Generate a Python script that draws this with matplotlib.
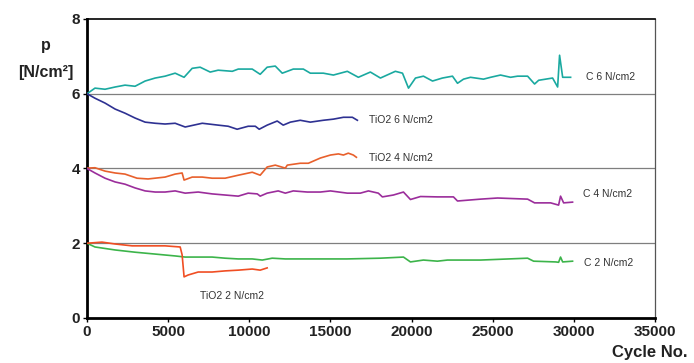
import matplotlib
matplotlib.use("Agg")
import matplotlib.pyplot as plt

# Friction pressure records over cycle count
c6_x = [0, 490, 1110, 1730, 2340, 2960, 3580, 4200, 4810, 5430, 5980, 6480, 6970, 7590, 8080, 8950, 9320,
        10180, 10670, 11100, 11600, 12030, 12220, 12710, 13330, 13760, 14560, 15180, 16040, 16720, 17460,
        18080, 19000, 19440, 19810, 20240, 20730, 21290, 21900, 22520, 22830, 23200, 23630, 24430, 24870,
        25480, 26100, 26530, 27150, 27580, 27830, 28690, 29000, 29120, 29310, 29800]
c6_y = [6.0, 6.15, 6.12, 6.18, 6.23, 6.2, 6.34, 6.42, 6.47, 6.55, 6.44, 6.68, 6.71, 6.58, 6.63, 6.6, 6.66,
        6.66, 6.52, 6.71, 6.74, 6.55, 6.58, 6.66, 6.66, 6.55, 6.55, 6.5, 6.6, 6.44, 6.58,
        6.42, 6.6, 6.55, 6.15, 6.42, 6.47, 6.34, 6.42, 6.47, 6.28, 6.39, 6.44, 6.39, 6.44,
        6.5, 6.44, 6.47, 6.47, 6.26, 6.36, 6.42, 6.18, 7.03, 6.44, 6.44]

tio6_x = [0, 490, 1110, 1730, 2340, 2960, 3580, 4200, 4810, 5430, 6050, 7100, 8080, 8700, 9250, 9930,
          10370, 10610, 11100, 11720, 12090, 12530, 13140, 13760, 14560, 15180, 15800, 16350, 16660]
tio6_y = [6.0, 5.88, 5.75, 5.59, 5.48, 5.35, 5.24, 5.21, 5.19, 5.21, 5.11, 5.21, 5.16, 5.13, 5.05, 5.13,
          5.13, 5.05, 5.16, 5.27, 5.16, 5.24, 5.29, 5.24, 5.29, 5.32, 5.37, 5.37, 5.29]

tio4_x = [0, 490, 1110, 1730, 2340, 3080, 3760, 4810, 5430, 5860, 5980, 6480, 7100, 7710, 8510, 9320,
          10180, 10670, 11100, 11600, 12220, 12340, 13140, 13640, 14380, 15000, 15490, 15800, 16100,
          16410, 16600]
tio4_y = [4.01, 4.02, 3.93, 3.88, 3.85, 3.74, 3.72, 3.77, 3.85, 3.88, 3.69, 3.77, 3.77, 3.74, 3.74, 3.82,
          3.90, 3.82, 4.04, 4.09, 4.01, 4.09, 4.14, 4.14, 4.28, 4.36, 4.39, 4.36, 4.41,
          4.36, 4.30]

c4_x = [0, 490, 1110, 1730, 2340, 2960, 3580, 4200, 4810, 5430, 6050, 6850, 7710, 8510, 9320, 9930,
        10490, 10670, 11100, 11780, 12220, 12710, 13570, 14380, 15000, 16040, 16840, 17340, 17950,
        18200, 18880, 19500, 19930, 20550, 21590, 22580, 22830, 24250, 25300, 27150, 27580, 28570,
        29060, 29180, 29370, 29920]
c4_y = [4.0, 3.88, 3.74, 3.64, 3.58, 3.48, 3.40, 3.37, 3.37, 3.40, 3.34, 3.37, 3.32, 3.29, 3.26, 3.34,
        3.32, 3.26, 3.34, 3.40, 3.34, 3.40, 3.37, 3.37, 3.40, 3.34, 3.34, 3.40, 3.34,
        3.24, 3.29, 3.37, 3.17, 3.25, 3.24, 3.24, 3.13, 3.18, 3.21, 3.18, 3.08, 3.08,
        3.02, 3.26, 3.08, 3.10]

c2_x = [0, 490, 1730, 2960, 4200, 5430, 6050, 6850, 7710, 8510, 9320, 10180, 10800, 11410, 12220,
        14000, 16000, 18080, 19500, 19930, 20730, 21590, 22210, 24250, 27150, 27520, 28880, 29060,
        29180, 29310, 29920]
c2_y = [2.0, 1.90, 1.82, 1.76, 1.71, 1.66, 1.63, 1.63, 1.63, 1.60, 1.58, 1.58, 1.55, 1.60, 1.58,
        1.58, 1.58, 1.60, 1.63, 1.50, 1.55, 1.52, 1.55, 1.55, 1.60, 1.52, 1.50, 1.49,
        1.63, 1.50, 1.52]

tio2_x = [0, 920, 1730, 2780, 4010, 4810, 5740, 5860, 5980, 6230, 6850, 7710, 8510, 9320, 10180,
          10670, 11100]
tio2_y = [2.0, 2.03, 1.98, 1.93, 1.93, 1.93, 1.90, 1.69, 1.10, 1.15, 1.23, 1.23, 1.26, 1.28, 1.31,
          1.28, 1.34]

x_ticks = [0, 5000, 10000, 15000, 20000, 25000, 30000, 35000]
y_ticks = [0, 2, 4, 6, 8]

series = [
    (c6_x, c6_y, "#1aa9a0", "C 6 N/cm2", (29950 + 800, 6.44)),
    (tio6_x, tio6_y, "#2e3192", "TiO2 6 N/cm2", (16660 + 700, 5.29)),
    (tio4_x, tio4_y, "#e8602c", "TiO2 4 N/cm2", (16660 + 700, 4.28)),
    (c4_x, c4_y, "#9b2d9b", "C 4 N/cm2", (29950 + 600, 3.32)),
    (c2_x, c2_y, "#3cb44a", "C 2 N/cm2", (29950 + 700, 1.47)),
    (tio2_x, tio2_y, "#f04e23", "TiO2 2 N/cm2", (6950, 0.59)),
]

fig = plt.figure(figsize=(6.94, 3.63), dpi=100)
ax = fig.add_axes([0.1254, 0.124, 0.8184, 0.8237])

for g in (2, 4, 6):
    ax.axhline(g, color="#7f7f7f", lw=0.9, zorder=1)

for xs, ys, col, lab, pos in series:
    ax.plot(xs, ys, color=col, lw=1.2, zorder=3)
    ax.text(pos[0], pos[1], lab, fontsize=7.5, color="#333333", va="center", ha="left",
            family="Liberation Sans")

ax.set_xlim(0, 35000)
ax.set_ylim(0, 8)
ax.set_xticks(x_ticks)
ax.set_yticks(y_ticks)
ax.set_xticklabels([str(t) for t in x_ticks])
ax.set_yticklabels([str(t) for t in y_ticks])
for lbl in ax.get_xticklabels() + ax.get_yticklabels():
    lbl.set_fontweight("bold")
    lbl.set_fontsize(11)
    lbl.set_family("Liberation Sans")
    lbl.set_color("#222222")
ax.tick_params(axis="both", direction="out", length=3, width=1, pad=2)

ax.spines["left"].set_linewidth(2)
ax.spines["bottom"].set_linewidth(2)
ax.spines["top"].set_linewidth(1.2)
ax.spines["right"].set_linewidth(0.9)
ax.spines["right"].set_color("#555555")

fig.text(0.066, 0.875, "p", ha="center", va="center", fontsize=11.5,
         fontweight="bold", family="Liberation Sans", color="#222222")
fig.text(0.066, 0.80, "[N/cm²]", ha="center", va="center", fontsize=11.5,
         fontweight="bold", family="Liberation Sans", color="#222222")
fig.text(0.99, 0.028, "Cycle No.", ha="right", va="center", fontsize=12,
         fontweight="bold", family="Liberation Sans", color="#222222")

fig.savefig("out.png", dpi=100)
